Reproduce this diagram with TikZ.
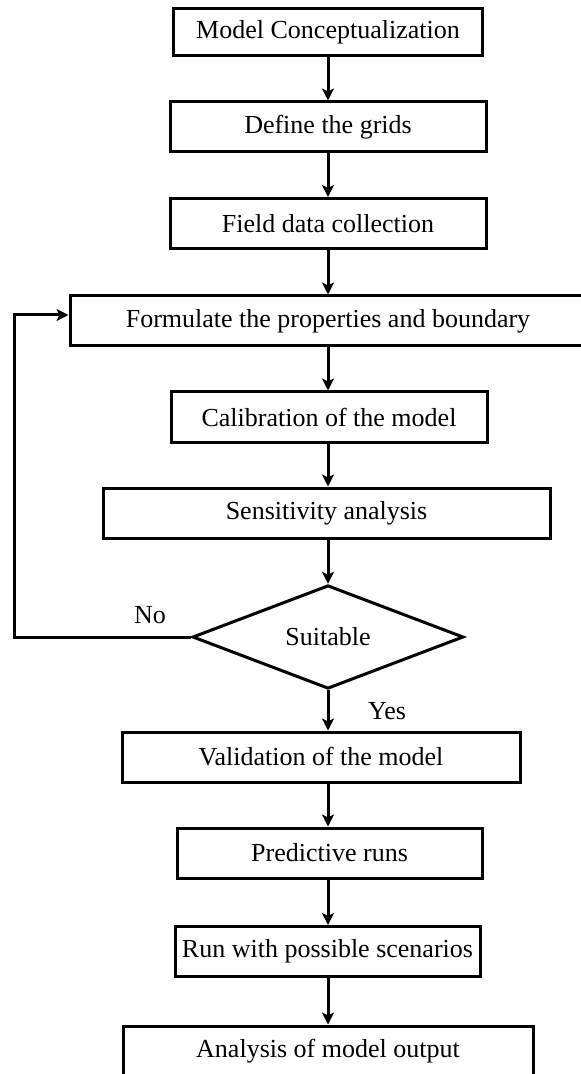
\documentclass[tikz,border=0pt]{standalone}
\usepackage{fontspec}
\setmainfont{Liberation Serif}
\usetikzlibrary{shapes.geometric,arrows.meta}

\begin{document}
\begin{tikzpicture}[x=0.5pt,y=-0.5pt,line width=1.5pt,
 font=\fontsize{13pt}{15pt}\selectfont,
 stepbox/.style={draw,rectangle,minimum height=25pt,inner sep=2pt},
 arr/.style={-{Stealth[length=6pt,width=6pt,inset=1.5pt]}}]
\useasboundingbox (0,0) rectangle (581,1074);
\node[stepbox,minimum width=154.5pt,minimum height=23.5pt] (conc) at (328,32.5) {Model Conceptualization};
\node[stepbox,minimum width=158pt] (grid) at (328,127) {Define the grids};
\node[stepbox,minimum width=158pt] (field) at (328,223.5) {Field data collection};
\node[stepbox,minimum width=258pt] (form) at (328,321) {Formulate the properties and boundary};
\node[stepbox,minimum width=158pt] (calib) at (329,417) {Calibration of the model};
\node[stepbox,minimum width=223.5pt] (sens) at (326.5,513) {Sensitivity analysis};
\node[draw,diamond,minimum width=135.5pt,minimum height=48pt,inner sep=0pt] (suit) at (328,637) {Suitable};
\node[stepbox,minimum width=199pt] (valid) at (321,757) {Validation of the model};
\node[stepbox,minimum width=152.5pt] (pred) at (329.5,853) {Predictive runs};
\node[stepbox,minimum width=152.5pt] (scen) at (327.5,951.5) {Run with possible scenarios};
\node[stepbox,minimum width=205pt] (out) at (328,1051) {Analysis of model output};
\node (no) at (150,615) {No};
\node (yes) at (387,711) {Yes};
\coordinate (fbl) at (14,637);
\coordinate (fbu) at (14,315);
\draw[arr] (conc) -- (conc |- grid.north);
\draw[arr] (grid) -- (grid |- field.north);
\draw[arr] (field) -- (field |- form.north);
\draw[arr] (form) -- (form |- calib.north);
\draw[arr] (calib.south -| form) -- (form |- sens.north);
\draw[arr] (sens.south -| form) -- (form |- suit.north);
\draw[arr] (suit) -- (suit |- valid.north);
\draw[arr] (valid.south -| suit) -- (suit |- pred.north);
\draw[arr] (pred.south -| suit) -- (suit |- scen.north);
\draw[arr] (scen.south -| suit) -- (suit |- out.north);
\draw[arr] (suit.west) -- (fbl) -- (fbu) -- (fbu -| form.west);
\end{tikzpicture}
\end{document}
